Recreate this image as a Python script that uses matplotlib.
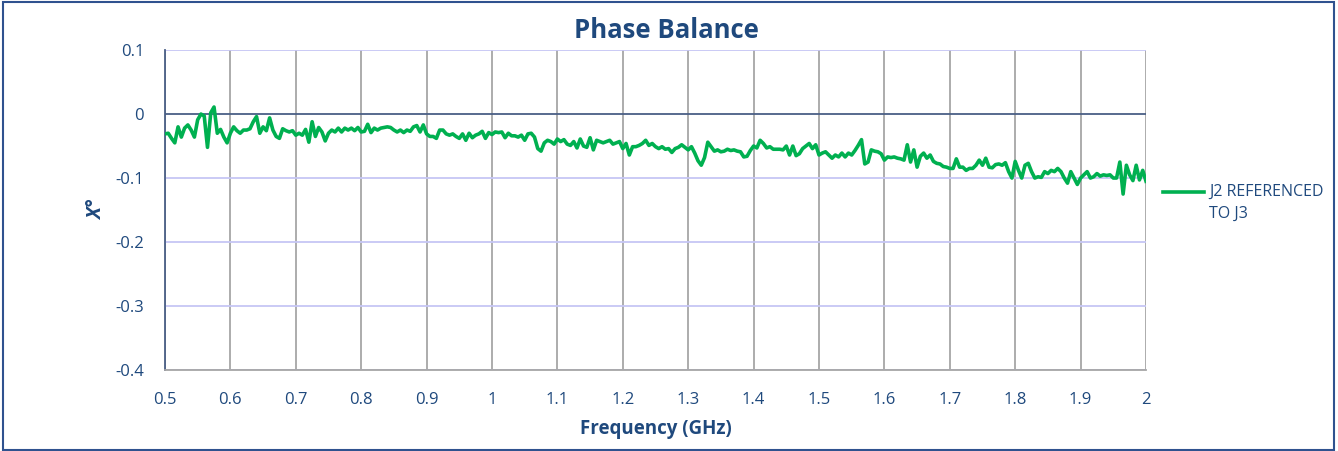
import numpy as np
import matplotlib
matplotlib.use("Agg")
import matplotlib.pyplot as plt
from matplotlib.legend_handler import HandlerLine2D

# sweep 0.5 - 2.0 GHz, 5 MHz step
freq_start = 0.5
freq_stop = 2.0
n_points = 301

# phase balance J2 referenced to J3 (deg)
phase = [
    -0.031, -0.030, -0.038, -0.045, -0.020, -0.036, -0.022, -0.017, -0.025, -0.036,
    -0.009, 0.000, -0.003, -0.052, 0.002, 0.011, -0.030, -0.024, -0.036, -0.045,
    -0.030, -0.020, -0.026, -0.030, -0.025, -0.025, -0.023, -0.012, -0.004, -0.030,
    -0.020, -0.026, -0.006, -0.025, -0.035, -0.038, -0.023, -0.026, -0.028, -0.026,
    -0.033, -0.030, -0.033, -0.024, -0.044, -0.012, -0.035, -0.021, -0.028, -0.042,
    -0.030, -0.025, -0.028, -0.022, -0.028, -0.022, -0.025, -0.022, -0.026, -0.021,
    -0.028, -0.027, -0.016, -0.029, -0.022, -0.025, -0.022, -0.021, -0.020, -0.021,
    -0.025, -0.028, -0.025, -0.029, -0.025, -0.027, -0.020, -0.018, -0.028, -0.017,
    -0.031, -0.035, -0.035, -0.038, -0.025, -0.025, -0.031, -0.033, -0.031, -0.035,
    -0.038, -0.031, -0.041, -0.030, -0.037, -0.033, -0.031, -0.027, -0.038, -0.029,
    -0.032, -0.028, -0.029, -0.028, -0.037, -0.030, -0.034, -0.034, -0.036, -0.033,
    -0.041, -0.031, -0.030, -0.036, -0.054, -0.058, -0.045, -0.041, -0.043, -0.047,
    -0.039, -0.043, -0.040, -0.047, -0.049, -0.043, -0.053, -0.039, -0.050, -0.052,
    -0.037, -0.056, -0.041, -0.043, -0.045, -0.043, -0.041, -0.047, -0.045, -0.043,
    -0.054, -0.046, -0.064, -0.051, -0.051, -0.049, -0.046, -0.041, -0.049, -0.046,
    -0.051, -0.054, -0.051, -0.055, -0.054, -0.060, -0.054, -0.052, -0.048, -0.052,
    -0.056, -0.051, -0.061, -0.073, -0.080, -0.068, -0.044, -0.051, -0.058, -0.056,
    -0.059, -0.058, -0.055, -0.057, -0.056, -0.058, -0.059, -0.067, -0.066, -0.057,
    -0.050, -0.053, -0.041, -0.046, -0.053, -0.051, -0.055, -0.055, -0.055, -0.056,
    -0.050, -0.064, -0.050, -0.065, -0.062, -0.054, -0.050, -0.046, -0.054, -0.048,
    -0.064, -0.061, -0.059, -0.064, -0.069, -0.064, -0.067, -0.061, -0.067, -0.061,
    -0.064, -0.057, -0.049, -0.040, -0.078, -0.075, -0.056, -0.058, -0.059, -0.062,
    -0.072, -0.067, -0.068, -0.067, -0.069, -0.070, -0.072, -0.048, -0.075, -0.056,
    -0.083, -0.066, -0.061, -0.069, -0.064, -0.074, -0.077, -0.078, -0.082, -0.083,
    -0.085, -0.085, -0.070, -0.083, -0.083, -0.088, -0.085, -0.085, -0.080, -0.072,
    -0.080, -0.069, -0.083, -0.084, -0.079, -0.078, -0.080, -0.076, -0.090, -0.100,
    -0.074, -0.088, -0.100, -0.080, -0.077, -0.090, -0.100, -0.098, -0.099, -0.090,
    -0.093, -0.088, -0.090, -0.085, -0.090, -0.100, -0.108, -0.090, -0.100, -0.110,
    -0.100, -0.095, -0.090, -0.100, -0.098, -0.093, -0.097, -0.095, -0.096, -0.095,
    -0.100, -0.100, -0.075, -0.125, -0.080, -0.095, -0.104, -0.080, -0.103, -0.088,
    -0.105,
]

x_ticks = [0.5, 0.6, 0.7, 0.8, 0.9, 1.0, 1.1, 1.2, 1.3, 1.4, 1.5, 1.6, 1.7, 1.8, 1.9, 2.0]
x_tick_labels = ["0.5", "0.6", "0.7", "0.8", "0.9", "1", "1.1", "1.2", "1.3", "1.4",
                 "1.5", "1.6", "1.7", "1.8", "1.9", "2"]
y_ticks = [-0.4, -0.3, -0.2, -0.1, 0, 0.1]
y_tick_labels = ["-0.4", "-0.3", "-0.2", "-0.1", "0", "0.1"]

freq = np.linspace(freq_start, freq_stop, n_points)

navy = "#1F497D"
plt.rcParams['font.family'] = ['Open Sans', 'DejaVu Sans']


class TopLineHandler(HandlerLine2D):
    # put the legend line next to the first text row, like Excel does
    def create_artists(self, legend, orig_handle, xdescent, ydescent, width, height,
                       fontsize, trans):
        arts = super().create_artists(legend, orig_handle, xdescent, ydescent, width,
                                      height, fontsize, trans)
        for a in arts:
            a.set_ydata(np.asarray(a.get_ydata()) + fontsize * 0.72)
        return arts


fig = plt.figure(figsize=(13.38, 4.51), dpi=100)
ax = fig.add_axes([0.1233, 0.1796, 0.7332, 0.7094])

# grid: grey verticals, lavender horizontals, dark zero line
for xv in x_ticks:
    ax.axvline(xv, color="#A6A6A6", lw=1.3, zorder=1)
for yv in y_ticks:
    if yv != 0:
        ax.axhline(yv, color="#C6C6F5", lw=1.3, zorder=1)
ax.axhline(0, color="#4A5F86", lw=1.3, zorder=1)

line, = ax.plot(freq, phase, color="#00B050", lw=2.6, zorder=3,
                label="J2 REFERENCED\nTO J3")

ax.set_xlim(0.5, 2.0)
ax.set_ylim(-0.4, 0.1)
ax.set_xticks(x_ticks)
ax.set_xticklabels(x_tick_labels)
ax.set_yticks(y_ticks)
ax.set_yticklabels(y_tick_labels)
ax.tick_params(axis="both", length=0, labelsize=12, labelcolor=navy)
ax.tick_params(axis="x", pad=15.5)
ax.tick_params(axis="y", pad=15)

for side in ["top", "right"]:
    ax.spines[side].set_visible(False)
ax.spines["left"].set_color("#4A5F86")
ax.spines["bottom"].set_color("#A6A6A6")
ax.spines["left"].set_linewidth(1.3)
ax.spines["bottom"].set_linewidth(1.3)

ax.set_xlabel("Frequency (GHz)", fontsize=13.5, fontweight="bold", color=navy, labelpad=8)
ax.set_ylabel("X°", fontsize=14, fontweight="bold", fontstyle="italic", color=navy, labelpad=6)
fig.text(0.4978, 0.933, "Phase Balance", ha="center", va="center",
         fontsize=18.5, fontweight="bold", color=navy)

leg = ax.legend(handles=[line], loc="center left", bbox_to_anchor=(1.0173, 0.523),
                frameon=False, fontsize=11.5, handlelength=2.6, handletextpad=0.3,
                borderpad=0, borderaxespad=0,
                handler_map={line: TopLineHandler()})
for t in leg.get_texts():
    t.set_color(navy)
    t.set_linespacing(1.45)

# outer chart border
fig.patches.append(plt.Rectangle((0.002, 0.003), 0.995, 0.993, transform=fig.transFigure,
                                 fill=False, edgecolor="#2F528F", lw=1.5))

fig.savefig("out.png", dpi=100)
